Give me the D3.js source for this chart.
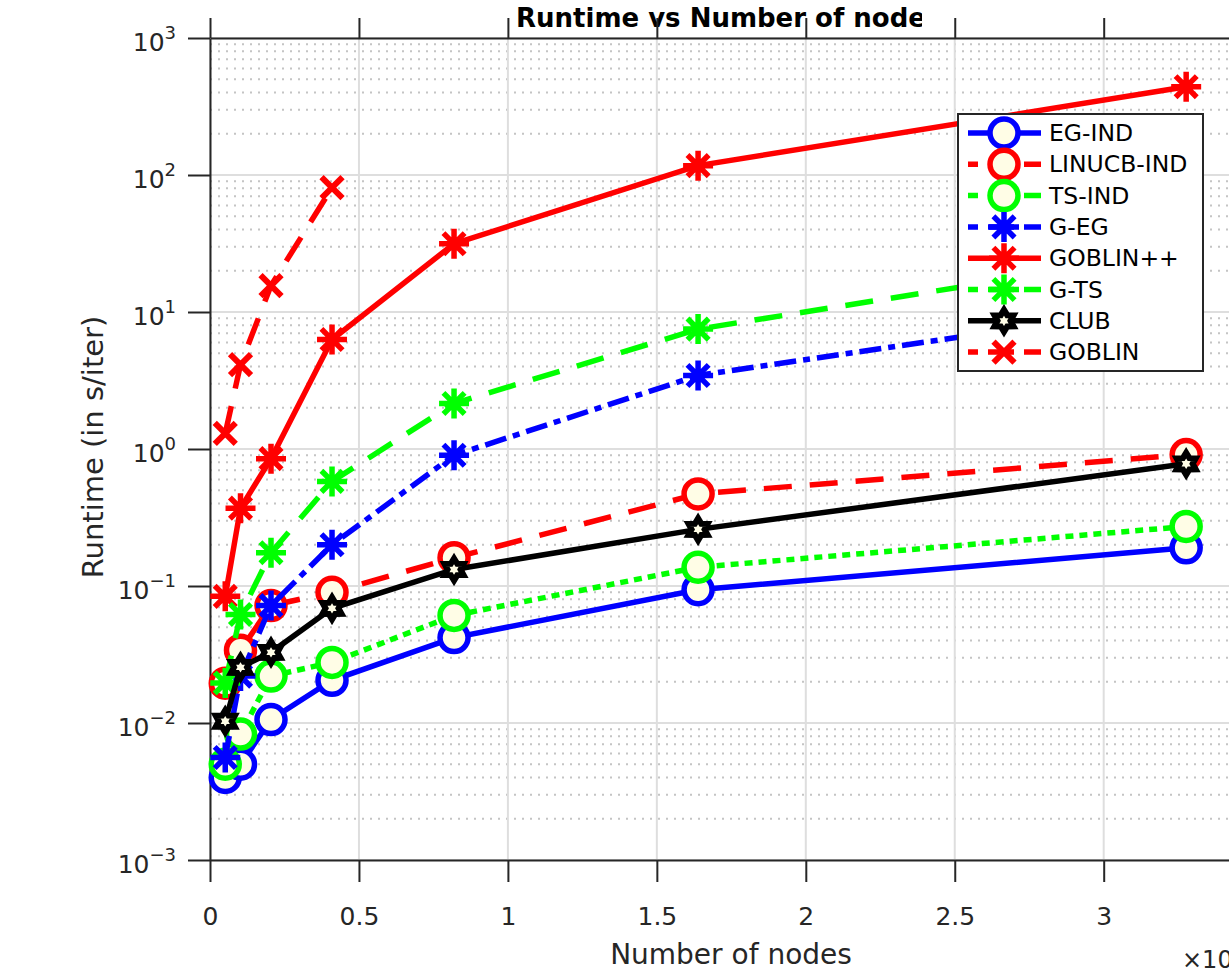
<!DOCTYPE html>
<html>
<head>
<meta charset="utf-8">
<script src="https://cdn.jsdelivr.net/npm/d3@7"></script>
<style>
  body { margin: 0; background: #fff; }
  svg { display: block; font-family: "DejaVu Sans", sans-serif; }
</style>
</head>
<body>
<div id="chart"></div>
<script>
// number of nodes (x axis is shown in units of 10^4)
const nodes = [512, 1024, 2048, 4096, 8192, 16384, 32768];

// runtime in s/iter
const egInd     = [0.0040, 0.0050, 0.0106, 0.0205, 0.042, 0.094, 0.19];
const linucbInd = [0.0195, 0.034, 0.072, 0.090, 0.161, 0.47, 0.91];
const tsInd     = [0.0050, 0.0083, 0.022, 0.0277, 0.061, 0.137, 0.272];
const gEg       = [0.0056, 0.022, 0.072, 0.20, 0.90, 3.44, 11.5];
const goblinPP  = [0.084, 0.37, 0.85, 6.3, 31.5, 117, 441];
const gTs       = [0.0196, 0.062, 0.175, 0.58, 2.15, 7.5, 28];
const club      = [0.0103, 0.0255, 0.0328, 0.0687, 0.132, 0.259, 0.78];
const goblin    = [1.3, 4.13, 15.6, 80.8];

const seriesNames = ["EG-IND", "LINUCB-IND", "TS-IND", "G-EG", "GOBLIN++", "G-TS", "CLUB", "GOBLIN"];
const xTicks = [0, 0.5, 1, 1.5, 2, 2.5, 3];
const yTicks = [1e-3, 1e-2, 1e-1, 1e0, 1e1, 1e2, 1e3];

const width = 1229, height = 971;
const plot = { left: 210, top: 38, bottom: 860, right: 210 + 3.5 * 297.9 };

const x = d3.scaleLinear().domain([0, 3.5]).range([plot.left, plot.right]);
const y = d3.scaleLog().domain([1e-3, 1e3]).range([plot.bottom, plot.top]);

const cream = "#fffde6";
const axisColor = "#262626";
const lw = 5.5;

const styles = [
  { data: egInd,     color: "#0000ff", dash: null,            marker: "o" },
  { data: linucbInd, color: "#ff0000", dash: "28,18",         marker: "o" },
  { data: tsInd,     color: "#00ff00", dash: "8,6",           marker: "o" },
  { data: gEg,       color: "#0000ff", dash: "22,7,7,7",      marker: "*" },
  { data: goblinPP,  color: "#ff0000", dash: null,            marker: "*" },
  { data: gTs,       color: "#00ff00", dash: "28,18",         marker: "*" },
  { data: club,      color: "#000000", dash: null,            marker: "h" },
  { data: goblin,    color: "#ff0000", dash: "28,18",         marker: "x" }
];

const svg = d3.select("#chart").append("svg")
  .attr("width", width)
  .attr("height", height);

// grid
const grid = svg.append("g");
const minor = [];
for (let e = -3; e < 3; e++) {
  for (let k = 2; k <= 9; k++) minor.push(k * Math.pow(10, e));
}
grid.selectAll(".minor").data(minor).join("line")
  .attr("x1", plot.left).attr("x2", plot.right)
  .attr("y1", d => y(d)).attr("y2", d => y(d))
  .attr("stroke", "#c4c4c4").attr("stroke-width", 2)
  .attr("stroke-dasharray", "2,6");
grid.selectAll(".hmaj").data(yTicks).join("line")
  .attr("x1", plot.left).attr("x2", plot.right)
  .attr("y1", d => y(d)).attr("y2", d => y(d))
  .attr("stroke", "#dedede").attr("stroke-width", 2);
grid.selectAll(".vmaj").data(xTicks).join("line")
  .attr("x1", d => x(d)).attr("x2", d => x(d))
  .attr("y1", plot.top).attr("y2", plot.bottom)
  .attr("stroke", "#dedede").attr("stroke-width", 2);

// title (cut off on the right like in the figure)
svg.append("clipPath").attr("id", "titleClip")
  .append("rect").attr("x", 0).attr("y", 0).attr("width", 922).attr("height", 38);
svg.append("text")
  .attr("clip-path", "url(#titleClip)")
  .attr("x", 516).attr("y", 27)
  .attr("font-size", 26).attr("font-weight", "bold")
  .attr("fill", "#000")
  .text("Runtime vs Number of nodes");

// axes
function styleAxis(g) {
  g.select(".domain").attr("stroke", axisColor).attr("stroke-width", 2);
  g.selectAll(".tick line").attr("stroke", axisColor).attr("stroke-width", 2);
  g.selectAll(".tick text").attr("fill", axisColor);
}

const xAxis = svg.append("g")
  .attr("transform", `translate(0, ${plot.bottom})`)
  .call(d3.axisBottom(x).tickValues(xTicks).tickSize(22).tickSizeOuter(0)
    .tickFormat(d => d3.format("~g")(d)));
xAxis.selectAll(".tick text").attr("y", 65).attr("dy", 0).attr("font-size", 25);
xAxis.attr("font-family", null);
styleAxis(xAxis);

const topAxis = svg.append("g")
  .attr("transform", `translate(0, ${plot.top})`)
  .call(d3.axisTop(x).tickValues(xTicks).tickSize(20).tickSizeOuter(0).tickFormat(""));
styleAxis(topAxis);

const yAxis = svg.append("g")
  .attr("transform", `translate(${plot.left}, 0)`)
  .call(d3.axisLeft(y).tickValues(yTicks).tickSize(22).tickSizeOuter(0).tickFormat(""));
yAxis.attr("font-family", null);
styleAxis(yAxis);
yAxis.selectAll(".tick").each(function (d) {
  const t = d3.select(this).select("text")
    .attr("x", -34).attr("y", 12).attr("dy", 0)
    .attr("text-anchor", "end").attr("fill", axisColor);
  t.append("tspan").attr("font-size", 25).text("10");
  t.append("tspan").attr("font-size", 18).attr("dy", -12)
    .text(Math.round(Math.log10(d)).toString().replace("-", "\u2212"));
});

// axis labels
svg.append("text")
  .attr("x", 731).attr("y", 964)
  .attr("text-anchor", "middle").attr("font-size", 28).attr("fill", axisColor)
  .text("Number of nodes");
svg.append("text")
  .attr("transform", "translate(103, 447) rotate(-90)")
  .attr("text-anchor", "middle").attr("font-size", 29).attr("fill", axisColor)
  .text("Runtime (in s/iter)");
const mult = svg.append("text")
  .attr("x", 1182).attr("y", 968).attr("font-size", 24).attr("fill", axisColor);
mult.append("tspan").text("\u00d710");
mult.append("tspan").attr("font-size", 18).attr("dy", -11).text("4");

// markers
function hexagram(R, r) {
  const pts = [];
  for (let i = 0; i < 12; i++) {
    const a = -Math.PI / 2 + i * Math.PI / 6;
    const rad = i % 2 === 0 ? R : r;
    pts.push([rad * Math.cos(a), rad * Math.sin(a)]);
  }
  return "M" + pts.map(p => p.join(",")).join("L") + "Z";
}

function drawMarker(g, type, color) {
  if (type === "o") {
    g.append("circle").attr("r", 14)
      .attr("fill", cream).attr("stroke", color).attr("stroke-width", lw);
  } else if (type === "*") {
    const s = 15, d = s * 0.707;
    g.append("path")
      .attr("d", `M${-s},0L${s},0M0,${-s}L0,${s}M${-d},${-d}L${d},${d}M${-d},${d}L${d},${-d}`)
      .attr("stroke", color).attr("stroke-width", lw).attr("fill", "none");
  } else if (type === "h") {
    g.append("path").attr("d", hexagram(11, 6.5))
      .attr("fill", cream).attr("stroke", color).attr("stroke-width", 6)
      .attr("stroke-linejoin", "miter");
  } else if (type === "x") {
    const s = 10.5;
    g.append("path")
      .attr("d", `M${-s},${-s}L${s},${s}M${-s},${s}L${s},${-s}`)
      .attr("stroke", color).attr("stroke-width", 6).attr("fill", "none");
  }
}

const line = d3.line()
  .x((d, i) => x(nodes[i] / 1e4))
  .y(d => y(d));

const series = svg.append("g");
styles.forEach(s => {
  const g = series.append("g");
  g.append("path")
    .datum(s.data)
    .attr("d", line)
    .attr("fill", "none")
    .attr("stroke", s.color)
    .attr("stroke-width", lw)
    .attr("stroke-dasharray", s.dash);
  s.data.forEach((v, i) => {
    const m = g.append("g").attr("transform", `translate(${x(nodes[i] / 1e4)}, ${y(v)})`);
    drawMarker(m, s.marker, s.color);
  });
});

// legend
const legend = svg.append("g");
legend.append("rect")
  .attr("x", 958).attr("y", 114).attr("width", 245).attr("height", 257)
  .attr("fill", "#fff").attr("stroke", axisColor).attr("stroke-width", 2);
styles.forEach((s, i) => {
  const cy = 133 + i * 31.3;
  legend.append("line")
    .attr("x1", 968).attr("x2", 1041).attr("y1", cy).attr("y2", cy)
    .attr("stroke", s.color).attr("stroke-width", lw)
    .attr("stroke-dasharray", s.dash ? "26,10" : null)
    .attr("stroke-dashoffset", s.dash ? -20 : null);
  drawMarker(legend.append("g").attr("transform", `translate(1004, ${cy})`), s.marker, s.color);
  legend.append("text")
    .attr("x", 1049).attr("y", cy + 8)
    .attr("font-size", 23.5).attr("fill", "#000")
    .text(seriesNames[i]);
});
</script>
</body>
</html>
